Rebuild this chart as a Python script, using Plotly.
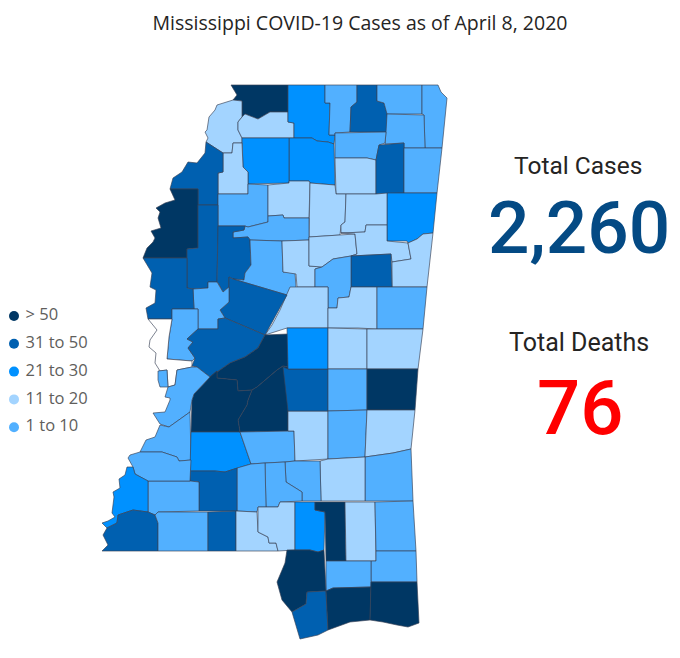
import plotly.graph_objects as go

TITLE = "Mississippi COVID-19 Cases as of April 8, 2020"
TOTAL_CASES = "2,260"
TOTAL_DEATHS = "76"

LEGEND_LABELS = ["> 50", "31 to 50", "21 to 30", "11 to 20", "1 to 10"]
LEGEND_COLORS = ["#003764", "#0060B0", "#0091FF", "#A3D4FF", "#52B0FF"]
BIN_COLORS = dict(zip(LEGEND_LABELS, LEGEND_COLORS))
NO_DATA_COLOR = "#FFFFFF"

COUNTY_BINS = {
    "DeSoto": "> 50", "Tunica": "11 to 20", "Tate": "11 to 20", "Marshall": "21 to 30",
    "Benton": "1 to 10", "Tippah": "31 to 50", "Alcorn": "1 to 10", "Tishomingo": "1 to 10",
    "Prentiss": "1 to 10", "Union": "1 to 10", "Pontotoc": "11 to 20", "Lee": "31 to 50",
    "Itawamba": "1 to 10", "Monroe": "21 to 30", "Lafayette": "21 to 30", "Panola": "21 to 30",
    "Quitman": "11 to 20", "Coahoma": "31 to 50", "Bolivar": "> 50", "Tallahatchie": "1 to 10",
    "Yalobusha": "11 to 20", "Calhoun": "11 to 20", "Chickasaw": "11 to 20", "Grenada": "1 to 10",
    "Sunflower": "31 to 50", "Leflore": "31 to 50", "Carroll": "1 to 10", "Montgomery": "11 to 20",
    "Webster": "11 to 20", "Clay": "11 to 20", "Lowndes": "11 to 20", "Oktibbeha": "31 to 50",
    "Choctaw": "1 to 10", "Attala": "11 to 20", "Winston": "11 to 20", "Noxubee": "1 to 10",
    "Holmes": "31 to 50", "Humphreys": "1 to 10", "Washington": "31 to 50", "Sharkey": "1 to 10",
    "Issaquena": None, "Yazoo": "31 to 50", "Madison": "> 50", "Rankin": "> 50", "Hinds": "> 50",
    "Warren": "1 to 10", "Warren (west)": "1 to 10", "Claiborne": "1 to 10", "Copiah": "21 to 30",
    "Simpson": "1 to 10", "Smith": "11 to 20", "Scott": "31 to 50", "Leake": "21 to 30",
    "Neshoba": "11 to 20", "Kemper": "11 to 20", "Newton": "1 to 10", "Jasper": "1 to 10",
    "Lauderdale": "> 50", "Clarke": "11 to 20", "Wayne": "1 to 10", "Jones": "11 to 20",
    "Covington": "1 to 10", "Jefferson Davis": "1 to 10", "Lawrence": "1 to 10", "Lincoln": "31 to 50",
    "Franklin": "1 to 10", "Jefferson": "1 to 10", "Adams": "21 to 30", "Wilkinson": "31 to 50",
    "Amite": "1 to 10", "Pike": "31 to 50", "Walthall": "11 to 20", "Marion": "11 to 20",
    "Lamar": "21 to 30", "Forrest": "> 50", "Perry": "11 to 20", "Greene": "1 to 10",
    "George": "1 to 10", "Stone": "1 to 10", "Pearl River": "> 50", "Hancock": "31 to 50",
    "Harrison": "> 50", "Jackson": "> 50",
}

# county boundaries, in map units (no shapefile available offline)
COUNTY_OUTLINES = {
    "DeSoto": [(231,85),(288,85),(288,112),(270,112),(258,119),(245,114),(242,117),(242,101),(233,100),(237,95)],
    "Tunica": [(233,100),(217,105),(215,110),(209,117),(207,130),(205,132),(208,138),(206,142),(223,153),(232,153),(233,143),(242,143),(242,138),(238,130),(238,122),(242,117),(242,101)],
    "Tate": [(242,117),(245,114),(258,119),(270,112),(288,112),(288,122),(294,123),(294,138),(242,138),(238,130),(238,122)],
    "Marshall": [(288,85),(325,85),(325,103),(330,103),(329,135),(335,135),(334,144),(328,142),(317,141),(312,138),(294,138),(294,123),(288,122)],
    "Benton": [(325,85),(357,85),(357,102),(351,107),(350,132),(335,133),(335,135),(329,135),(330,103),(325,103)],
    "Tippah": [(357,85),(377,85),(377,101),(384,103),(387,113),(387,132),(350,132),(351,107),(357,102)],
    "Alcorn": [(377,85),(422,85),(422,114),(387,114),(384,103),(377,101)],
    "Tishomingo": [(422,85),(438,85),(441,92),(447,98),(442,148),(425,148),(424,115),(422,114)],
    "Prentiss": [(387,114),(424,115),(425,148),(404,148),(404,143),(385,144),(386,132)],
    "Union": [(335,133),(386,132),(385,143),(379,145),(376,160),(367,158),(335,158)],
    "Pontotoc": [(335,158),(367,158),(376,160),(376,194),(336,194)],
    "Lee": [(379,145),(404,143),(404,193),(376,194),(376,160)],
    "Itawamba": [(404,148),(442,148),(437,193),(404,193)],
    "Monroe": [(387,193),(437,193),(433,233),(423,234),(417,239),(408,243),(407,241),(387,241)],
    "Lafayette": [(289,138),(312,138),(317,141),(328,142),(334,144),(335,185),(310,183),(309,181),(289,181)],
    "Panola": [(242,138),(289,138),(289,183),(248,184),(248,172),(243,167)],
    "Quitman": [(233,143),(242,143),(243,167),(248,172),(248,194),(218,194),(218,173),(223,172),(223,153),(232,153)],
    "Coahoma": [(206,142),(223,153),(223,172),(218,173),(218,205),(198,205),(198,189),(170,189),(173,178),(182,172),(188,162),(197,163),(205,153)],
    "Bolivar": [(170,189),(198,189),(198,248),(187,249),(187,258),(143,258),(147,248),(153,242),(155,238),(151,231),(161,228),(158,218),(160,212),(156,208),(165,203),(175,200)],
    "Tallahatchie": [(218,194),(248,194),(248,184),(268,185),(268,216),(268,222),(248,227),(245,226),(218,226)],
    "Yalobusha": [(268,185),(289,183),(289,181),(309,181),(310,183),(309,218),(284,218),(283,215),(268,216)],
    "Calhoun": [(310,183),(335,185),(336,194),(346,194),(345,222),(341,225),(340,235),(309,237)],
    "Chickasaw": [(346,194),(376,194),(387,193),(387,225),(366,225),(365,232),(341,233),(341,225),(345,222)],
    "Grenada": [(245,226),(248,227),(268,222),(268,216),(283,215),(284,218),(309,218),(309,240),(282,241),(250,240),(248,237),(233,238),(233,232),(244,230)],
    "Sunflower": [(198,205),(218,205),(218,240),(217,282),(208,282),(208,288),(193,289),(187,288),(187,249),(198,248)],
    "Leflore": [(218,226),(245,226),(244,230),(233,232),(233,238),(248,237),(250,240),(251,265),(245,273),(244,280),(233,279),(229,277),(229,287),(223,292),(218,283),(217,282)],
    "Carroll": [(250,240),(282,241),(283,272),(295,273),(296,287),(287,295),(233,279),(244,280),(245,273),(251,265)],
    "Montgomery": [(282,241),(309,240),(309,266),(322,267),(315,269),(315,287),(297,287),(296,274),(283,272)],
    "Webster": [(309,237),(340,235),(355,234),(356,245),(357,254),(351,256),(333,259),(322,267),(309,266)],
    "Clay": [(341,233),(365,232),(366,225),(387,225),(387,241),(408,243),(411,259),(392,262),(391,254),(351,256),(357,254),(356,245),(355,234)],
    "Lowndes": [(411,259),(408,243),(417,239),(423,234),(433,233),(427,287),(392,287),(392,262)],
    "Oktibbeha": [(351,256),(391,254),(392,287),(351,287)],
    "Choctaw": [(315,269),(322,267),(333,259),(351,256),(351,287),(349,297),(338,298),(337,308),(328,308),(328,287),(315,287)],
    "Attala": [(290,287),(328,287),(328,328),(287,328),(265,335),(272,325),(280,310),(287,295)],
    "Winston": [(351,287),(377,287),(377,329),(358,328),(328,328),(328,308),(337,308),(338,298),(349,297)],
    "Noxubee": [(377,287),(427,287),(423,329),(377,329)],
    "Holmes": [(233,279),(287,295),(265,335),(225,318),(220,310),(229,302),(229,287),(229,277)],
    "Humphreys": [(193,289),(208,288),(208,282),(217,282),(223,292),(229,287),(229,302),(220,310),(225,318),(218,319),(218,329),(198,329),(198,309),(194,309)],
    "Washington": [(143,258),(187,258),(187,288),(193,289),(194,309),(172,309),(172,319),(148,319),(146,308),(155,303),(156,290),(150,287),(152,273)],
    "Sharkey": [(172,309),(198,309),(198,329),(187,339),(193,342),(188,348),(195,358),(192,361),(167,359),(169,337),(172,319)],
    "Issaquena": [(148,319),(172,319),(169,337),(167,359),(192,361),(192,367),(177,370),(175,385),(168,387),(167,370),(160,371),(155,363),(156,353),(149,347),(150,340),(157,330)],
    "Yazoo": [(198,329),(218,329),(218,319),(225,318),(265,335),(258,348),(245,357),(230,363),(210,377),(197,367),(192,366),(195,358),(188,348),(193,342),(187,339)],
    "Madison": [(265,335),(288,334),(288,367),(283,366),(277,370),(257,387),(252,390),(238,391),(237,380),(217,378),(217,371),(210,377),(230,363),(245,357),(258,348)],
    "Rankin": [(283,366),(288,367),(288,400),(288,431),(240,432),(238,420),(247,405),(248,400),(252,390),(257,387),(277,370)],
    "Hinds": [(210,377),(217,371),(217,378),(237,380),(238,391),(252,390),(248,400),(247,405),(238,420),(240,432),(191,432),(192,400),(194,394),(206,381)],
    "Warren": [(192,367),(197,367),(210,377),(206,381),(194,394),(192,400),(190,412),(169,427),(160,424),(153,413),(165,412),(170,400),(170,398),(165,397),(168,387),(175,385),(177,370)],
    "Warren (west)": [(158,371),(167,370),(168,387),(160,387),(158,380)],
    "Claiborne": [(169,427),(190,412),(191,460),(179,461),(177,457),(162,452),(140,452),(146,440),(155,437),(160,425)],
    "Copiah": [(191,432),(240,432),(251,464),(225,472),(215,471),(190,471)],
    "Simpson": [(240,432),(294,431),(295,461),(285,462),(265,463),(251,464)],
    "Smith": [(288,431),(294,431),(295,461),(328,459),(328,411),(288,411)],
    "Scott": [(283,367),(288,369),(328,369),(328,411),(288,411)],
    "Leake": [(287,328),(328,328),(328,369),(288,369)],
    "Neshoba": [(328,328),(367,329),(367,369),(328,369)],
    "Kemper": [(367,329),(423,329),(418,369),(367,369)],
    "Newton": [(328,369),(367,369),(367,410),(328,411)],
    "Jasper": [(328,411),(367,410),(365,457),(328,459)],
    "Lauderdale": [(367,369),(418,369),(415,410),(367,410)],
    "Clarke": [(367,410),(415,410),(411,449),(393,453),(365,457)],
    "Wayne": [(365,457),(393,453),(411,449),(413,501),(365,501)],
    "Jones": [(328,459),(365,457),(365,501),(321,501),(320,461)],
    "Covington": [(285,462),(295,461),(320,461),(321,501),(302,501),(302,492),(286,482)],
    "Jefferson Davis": [(265,463),(285,462),(286,482),(302,492),(302,501),(280,502),(278,507),(266,507)],
    "Lawrence": [(237,468),(251,464),(265,463),(266,507),(258,507),(257,512),(237,511)],
    "Lincoln": [(190,471),(215,471),(225,472),(237,468),(237,511),(199,511),(199,482),(190,481)],
    "Franklin": [(148,481),(190,481),(199,482),(199,511),(158,512),(155,515),(148,512)],
    "Jefferson": [(130,455),(140,452),(162,452),(177,457),(179,461),(191,460),(190,481),(148,481),(135,474),(133,467),(128,458)],
    "Adams": [(133,467),(135,474),(148,481),(148,512),(133,510),(118,515),(117,523),(107,528),(102,523),(108,521),(115,517),(112,513),(114,497),(113,492),(120,488),(119,479),(125,475),(127,467)],
    "Wilkinson": [(118,515),(133,510),(148,512),(155,515),(158,523),(158,551),(102,551),(108,545),(103,535),(107,528),(117,523)],
    "Amite": [(158,512),(208,512),(208,551),(158,551),(158,523),(155,515)],
    "Pike": [(208,512),(236,511),(236,551),(208,551)],
    "Walthall": [(236,511),(257,512),(258,532),(268,537),(269,543),(276,543),(278,551),(236,551)],
    "Marion": [(258,507),(278,507),(280,502),(295,502),(295,550),(278,551),(276,543),(269,543),(268,537),(258,532)],
    "Lamar": [(295,502),(315,502),(315,510),(325,512),(324,550),(318,552),(310,550),(295,550)],
    "Forrest": [(315,502),(345,502),(346,561),(326,561),(325,512),(315,510)],
    "Perry": [(345,502),(375,502),(376,561),(346,561)],
    "Greene": [(375,502),(413,501),(416,551),(376,551)],
    "George": [(376,551),(416,551),(417,582),(371,582),(371,561),(376,561)],
    "Stone": [(326,561),(371,561),(371,587),(333,588),(326,591)],
    "Pearl River": [(287,550),(310,550),(318,552),(324,550),(326,591),(307,592),(306,604),(292,612),(282,600),(277,582),(285,563)],
    "Hancock": [(307,592),(326,591),(328,630),(318,635),(300,639),(292,612),(306,604)],
    "Harrison": [(326,591),(333,588),(371,587),(370,620),(350,622),(328,630)],
    "Jackson": [(371,582),(417,582),(419,623),(408,627),(397,625),(383,622),(370,620)],
}

fig = go.Figure()

for name, outline in COUNTY_OUTLINES.items():
    xs = [p[0] for p in outline] + [outline[0][0]]
    ys = [p[1] for p in outline] + [outline[0][1]]
    label = COUNTY_BINS[name]
    fig.add_trace(go.Scatter(
        x=xs,
        y=ys,
        mode="lines",
        fill="toself",
        fillcolor=BIN_COLORS.get(label, NO_DATA_COLOR),
        line=dict(color="rgba(55,65,85,0.65)", width=1),
        name=name,
        text=f"{name}: {label or 'no data'}",
        hoverinfo="text",
        hoveron="fills",
        showlegend=False,
    ))

# legend drawn by hand so the dots and spacing sit like the original
legend_y = [316 + i * 27.8 for i in range(len(LEGEND_LABELS))]
fig.add_trace(go.Scatter(
    x=[14] * len(LEGEND_LABELS),
    y=legend_y,
    mode="markers+text",
    marker=dict(color=LEGEND_COLORS, size=10),
    text=[" " + label for label in LEGEND_LABELS],
    textposition="middle right",
    textfont=dict(family="Open Sans", size=16.5, color="#605E5C"),
    hoverinfo="skip",
    showlegend=False,
))

big_text = [
    ("Total Cases", 578, 165, 24.5, "#252423", 400),
    (TOTAL_CASES, 579, 228, 73, "#044A84", 500),
    ("Total Deaths", 579, 342, 25, "#252423", 400),
    (TOTAL_DEATHS, 580, 408, 76, "#FF0000", 500),
]
for text, x, y, size, color, weight in big_text:
    fig.add_annotation(
        x=x, y=y, xref="x", yref="y", text=text, showarrow=False,
        font=dict(family="Roboto", size=size, color=color, weight=weight),
    )

fig.update_layout(
    title=dict(
        text=TITLE, x=360 / 680, xanchor="center", y=1 - 23 / 658, yanchor="middle",
        font=dict(family="Open Sans", size=19.5, color="#252423"),
    ),
    autosize=True,
    margin=dict(l=0, r=0, t=0, b=0),
    paper_bgcolor="white",
    plot_bgcolor="white",
    hovermode="closest",
    xaxis=dict(range=[0, 680], visible=False, fixedrange=True),
    yaxis=dict(range=[658, 0], visible=False, fixedrange=True),
)

fig.write_html(
    "out.html",
    config={"displayModeBar": False},
    post_script="document.body.style.margin='0';window.dispatchEvent(new Event('resize'));",
)
